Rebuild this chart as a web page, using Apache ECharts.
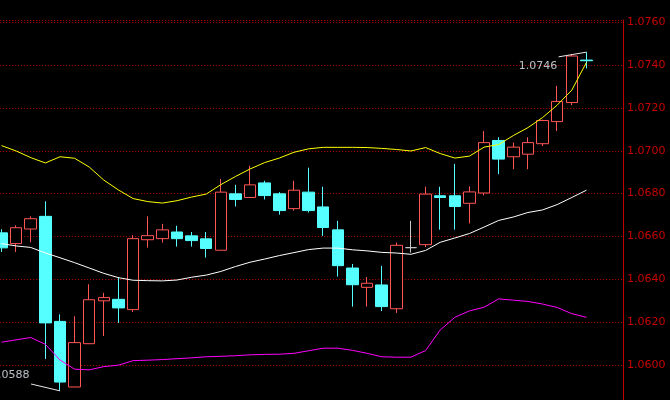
<!DOCTYPE html>
<html>
<head>
<meta charset="utf-8">
<style>
  html, body { margin: 0; padding: 0; background: #000; }
  #chart { width: 670px; height: 400px; }
</style>
<script src="https://cdn.jsdelivr.net/npm/echarts/dist/echarts.min.js"></script>
</head>
<body>
<div id="chart"></div>
<script>
// ---- data ----
const opens  = [1.06617,1.06567,1.06635,1.06694,1.06204,1.05898,1.06100,1.06300,1.06307,1.06259,
                1.06585,1.06590,1.06621,1.06603,1.06589,1.06536,1.06799,1.06782,1.06850,1.06799,
                1.06730,1.06807,1.06738,1.06631,1.06453,1.06363,1.06374,1.06263,1.06548,1.06562,
                1.06790,1.06790,1.06755,1.06803,1.07048,1.06972,1.06984,1.07033,1.07136,1.07225,1.07423];
const closes = [1.06547,1.06641,1.06683,1.06197,1.05921,1.06105,1.06305,1.06315,1.06267,1.06590,
                1.06604,1.06631,1.06590,1.06581,1.06544,1.06807,1.06773,1.06841,1.06791,1.06721,
                1.06816,1.06721,1.06642,1.06464,1.06375,1.06382,1.06273,1.06559,1.06548,1.06798,
                1.06782,1.06740,1.06808,1.07038,1.06961,1.07017,1.07038,1.07141,1.07230,1.07442,1.07420];
const lows   = [1.06528,1.06528,1.06573,1.06029,1.05880,1.05898,1.06100,1.06136,1.06197,1.06248,
                1.06548,1.06572,1.06553,1.06553,1.06502,1.06536,1.06740,1.06782,1.06773,1.06702,
                1.06721,1.06712,1.06603,1.06413,1.06273,1.06273,1.06252,1.06243,1.06525,1.06551,
                1.06632,1.06632,1.06661,1.06792,1.06891,1.06914,1.06914,1.07022,1.07092,1.07213,1.07384];
const highs  = [1.06634,1.06652,1.06694,1.06764,1.06237,1.06228,1.06377,1.06337,1.06411,1.06606,
                1.06694,1.06659,1.06650,1.06621,1.06621,1.06868,1.06841,1.06930,1.06860,1.06807,
                1.06860,1.06921,1.06832,1.06673,1.06472,1.06411,1.06463,1.06572,1.06673,1.06832,
                1.06832,1.06939,1.06834,1.07092,1.07063,1.07038,1.07063,1.07145,1.07303,1.07450,1.07460];
const upperBand  = [1.07024,1.06999,1.06968,1.06943,1.06972,1.06965,1.06924,1.06863,1.06817,1.06777,
                    1.06763,1.06756,1.06767,1.06784,1.06798,1.06842,1.06880,1.06915,1.06945,1.06966,
                    1.06993,1.07009,1.07016,1.07016,1.07016,1.07015,1.07011,1.07006,1.06999,1.07015,
                    1.06987,1.06966,1.06975,1.07017,1.07029,1.07071,1.07108,1.07155,1.07213,1.07283,1.07412];
const middleBand = [1.06567,1.06556,1.06549,1.06523,1.06501,1.06478,1.06453,1.06428,1.06408,1.06396,
                    1.06394,1.06393,1.06397,1.06410,1.06420,1.06437,1.06460,1.06480,1.06495,1.06511,
                    1.06525,1.06539,1.06546,1.06546,1.06538,1.06533,1.06526,1.06523,1.06517,1.06535,
                    1.06573,1.06593,1.06614,1.06644,1.06675,1.06691,1.06712,1.06724,1.06749,1.06782,1.06816];
const lowerBand  = [1.06107,1.06118,1.06129,1.06097,1.06024,1.05981,1.05978,1.05993,1.06000,1.06021,
                    1.06023,1.06026,1.06030,1.06034,1.06039,1.06041,1.06044,1.06048,1.06050,1.06051,
                    1.06055,1.06067,1.06079,1.06079,1.06069,1.06055,1.06039,1.06037,1.06037,1.06068,
                    1.06164,1.06223,1.06253,1.06270,1.06309,1.06303,1.06297,1.06285,1.06269,1.06240,1.06223];
const yTickMin = 1.0580, yTickMax = 1.0761, yTickStep = 0.0020;
const emptySlots = 2; // free slots to the right of the last bar

// ---- build ----
const n = opens.length;
const slotCount = n + emptySlots;
const categories = Array.from({length: slotCount}, (_, i) => String(i));

const RED = '#ff5555', CYAN = '#55ffff', DOJI = '#c8c8c8';
const candleData = opens.map((o, i) => {
  const item = { value: [o, closes[i], lows[i], highs[i]] };
  if (o === closes[i]) {
    item.itemStyle = { color: DOJI, color0: DOJI, borderColor: DOJI, borderColor0: DOJI, borderColorDoji: DOJI };
  }
  return item;
});

// extremes with leader lines
let hiIdx = 0, loIdx = 0;
highs.forEach((v, i) => { if (v > highs[hiIdx]) hiIdx = i; });
lows.forEach((v, i) => { if (v < lows[loIdx]) loIdx = i; });
const hiVal = highs[hiIdx], loVal = lows[loIdx];

const lineFont = { fontFamily: 'DejaVu Sans', fontSize: 11 };

const option = {
  backgroundColor: '#000000',
  animation: false,
  grid: { left: -5.81, right: 47, top: 20, height: 388, outerBoundsMode: 'none', containLabel: false },
  xAxis: [
    { type: 'category', data: categories, boundaryGap: true, show: false },
    { type: 'value', min: -0.5, max: slotCount - 0.5, show: false }
  ],
  yAxis: {
    type: 'value', position: 'right', scale: true,
    min: yTickMin, max: yTickMax, interval: yTickStep,
    axisLine: { show: true, onZero: false, lineStyle: { color: '#c00000', width: 1 } },
    axisTick: { show: false },
    axisLabel: {
      show: true, margin: 4, color: '#c80000', fontFamily: 'DejaVu Sans', fontSize: 11,
      showMaxLabel: false, showMinLabel: false,
      formatter: v => v.toFixed(4)
    },
    splitLine: { show: true, lineStyle: { color: '#c00000', width: 1, type: [1, 2] } }
  },
  series: [
    {
      type: 'candlestick', data: candleData, barWidth: 12, z: 2,
      itemStyle: { color: '#000000', color0: CYAN, borderColor: RED, borderColor0: CYAN, borderWidth: 1, borderColorDoji: DOJI }
    },
    { type: 'line', data: upperBand, symbol: 'none', z: 3, lineStyle: { color: '#ffff00', width: 1 } },
    { type: 'line', data: middleBand, symbol: 'none', z: 3, lineStyle: { color: '#ffffff', width: 1 } },
    { type: 'line', data: lowerBand, symbol: 'none', z: 3, lineStyle: { color: '#ff00ff', width: 1 } },
    // leader line to the highest high
    { type: 'line', xAxisIndex: 1, symbol: 'none', z: 4,
      data: [[hiIdx - 1.91, hiVal - 0.00022], [hiIdx, hiVal]],
      lineStyle: { color: '#e8e8e8', width: 1 } },
    // leader line to the lowest low
    { type: 'line', xAxisIndex: 1, symbol: 'none', z: 4,
      data: [[loIdx - 1.98, loVal + 0.00032], [loIdx, loVal]],
      lineStyle: { color: '#e8e8e8', width: 1 } },
    // extreme labels
    { type: 'scatter', xAxisIndex: 1, symbolSize: 1, z: 5,
      itemStyle: { color: 'rgba(0,0,0,0)' },
      data: [
        { value: [hiIdx - 1.97, hiVal - 0.00063], txt: hiVal.toFixed(4) },
        { value: [loIdx - 2.05, loVal + 0.00071], txt: loVal.toFixed(4) }
      ],
      label: { show: true, position: 'left', distance: 0, color: '#e6ecf5', ...lineFont,
               formatter: p => p.data.txt }
    }
  ]
};

const chart = echarts.init(document.getElementById('chart'), null, { renderer: 'canvas' });
chart.setOption(option);
</script>
</body>
</html>
